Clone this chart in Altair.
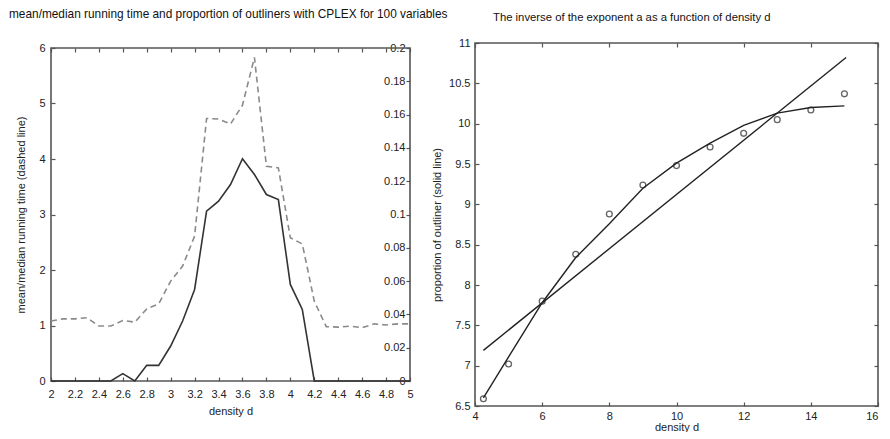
import altair as alt
import pandas as pd

FONT = "Liberation Sans"

LEFT_TITLE = "mean/median running time and proportion of outliners with CPLEX for 100 variables"
RIGHT_TITLE = "The inverse of the exponent a as a function of density d"

# ---------------- left panel data ----------------
density = [2.0, 2.1, 2.2, 2.3, 2.4, 2.5, 2.6, 2.7, 2.8, 2.9,
           3.0, 3.1, 3.2, 3.3, 3.4, 3.5, 3.6, 3.7, 3.8, 3.9,
           4.0, 4.1, 4.2, 4.3, 4.4, 4.5, 4.6, 4.7, 4.8, 4.9, 5.0]
mean_median_time = [1.08, 1.12, 1.12, 1.14, 0.99, 0.99, 1.09, 1.06, 1.30, 1.39,
                    1.80, 2.07, 2.61, 4.73, 4.72, 4.63, 4.97, 5.83, 3.87, 3.84,
                    2.58, 2.47, 1.44, 0.98, 0.97, 0.99, 0.96, 1.03, 1.01, 1.03, 1.03]
outlier_prop = [0.0, 0.0, 0.0, 0.0, 0.0, 0.0, 0.0044, 0.0, 0.0094, 0.0094,
                0.021, 0.036, 0.055, 0.102, 0.108, 0.118, 0.1335, 0.124, 0.112, 0.109,
                0.058, 0.043, 0.0, 0.0, 0.0, 0.0, 0.0, 0.0, 0.0, 0.0, 0.0]

left_xticks = [2, 2.2, 2.4, 2.6, 2.8, 3, 3.2, 3.4, 3.6, 3.8, 4, 4.2, 4.4, 4.6, 4.8, 5]
left_yticks = [0, 1, 2, 3, 4, 5, 6]
right_axis_ticks = [0, 0.02, 0.04, 0.06, 0.08, 0.1, 0.12, 0.14, 0.16, 0.18, 0.2]

# ---------------- right panel data ----------------
obs_density = [4.25, 5, 6, 7, 8, 9, 10, 11, 12, 13, 14, 15]
obs_inverse = [6.59, 7.02, 7.80, 8.38, 8.88, 9.24, 9.48, 9.71, 9.88, 10.05, 10.17, 10.37]
curve_density = [4.25, 5, 6, 7, 8, 9, 10, 11, 12, 13, 14, 15]
curve_inverse = [6.60, 7.11, 7.78, 8.34, 8.76, 9.20, 9.51, 9.76, 9.98, 10.13, 10.20, 10.22]
line_density = [4.25, 15.05]
line_inverse = [7.19, 10.82]

r_xticks = [4, 6, 8, 10, 12, 14, 16]
r_yticks = [6.5, 7, 7.5, 8, 8.5, 9, 9.5, 10, 10.5, 11]

# left panel: group is 338 tall, the plotted frame starts 5px below its top
W1, H1, TOP1 = 359, 338, 5
W2, H2 = 403, 363
FRAME = "#555555"

AX = dict(domain=False, offset=-4, tickSize=4, tickColor=FRAME, tickWidth=1.2,
          labelFont=FONT, labelFontSize=11, labelColor="#222",
          titleFont=FONT, titleFontSize=11, titleFontWeight="normal", titleColor="#222",
          grid=False, labelFlush=False, labelOverlap=False)
AX_R = dict(AX)
AX_R["minExtent"] = 0

left_df = pd.DataFrame({"d": density, "t": mean_median_time, "p": outlier_prop})

xs1 = alt.Scale(domain=[2, 5], nice=False, zero=False)

frame1 = alt.Chart(pd.DataFrame({"f": [0]})).mark_rect(
    fill="transparent", stroke=FRAME, strokeWidth=1.6
).encode(x=alt.value(0), x2=alt.value(W1), y=alt.value(TOP1), y2=alt.value(H1))

title1 = alt.Chart(pd.DataFrame({"t": [LEFT_TITLE]})).mark_text(
    font=FONT, fontSize=11.85, color="#111", align="left", baseline="top"
).encode(x=alt.value(-42), y=alt.value(-34), text="t:N")

dashed = alt.Chart(left_df).mark_line(color="#8a8a8a", strokeDash=[6, 4], strokeWidth=1.6).encode(
    x=alt.X("d:Q", scale=xs1,
            axis=alt.Axis(orient="bottom", values=left_xticks, format="~g", title="density d",
                          labelPadding=7, titlePadding=6, **AX)),
    y=alt.Y("t:Q", scale=alt.Scale(domain=[0, 6], nice=False, range=[H1, TOP1]),
            axis=alt.Axis(orient="left", values=left_yticks, title="mean/median running time (dashed line)",
                          labelPadding=6, titlePadding=12, **AX)),
)
AX_TOP = dict(AX)
AX_TOP["offset"] = -4 - TOP1
solid = alt.Chart(left_df).mark_line(color="#333333", strokeWidth=1.6).encode(
    x=alt.X("d:Q", scale=xs1,
            axis=alt.Axis(orient="top", values=left_xticks, labels=False, title=None, **AX_TOP)),
    y=alt.Y("p:Q", scale=alt.Scale(domain=[0, 0.2], nice=False, range=[H1, TOP1]),
            axis=alt.Axis(orient="right", values=right_axis_ticks, format="~g", title=None,
                          labelAlign="right", labelPadding=-5, **AX_R)),
)
left = alt.layer(frame1, dashed, solid, title1).resolve_scale(y="independent").resolve_axis(x="independent").properties(
    width=W1, height=H1,
    view=alt.ViewBackground(stroke="transparent"),
)

# ---------------- right panel ----------------
obs_df = pd.DataFrame({"d": obs_density, "v": obs_inverse})
curve_df = pd.DataFrame({"d": curve_density, "v": curve_inverse})
line_df = pd.DataFrame({"d": line_density, "v": line_inverse})

xs2 = alt.Scale(domain=[4, 16], nice=False, zero=False)
ys2 = alt.Scale(domain=[6.5, 11], nice=False, zero=False)

AX_RB = dict(AX)
AX_RB["labelAlign"] = alt.ExprRef(expr="datum.value >= 16 ? 'right' : 'center'")

title2 = alt.Chart(pd.DataFrame({"t": [RIGHT_TITLE]})).mark_text(
    font=FONT, fontSize=11.3, color="#111", align="left", baseline="top"
).encode(x=alt.value(18), y=alt.value(-31), text="t:N")

pts = alt.Chart(obs_df).mark_point(shape="circle", filled=False, color="#222", size=34, strokeWidth=1.3).encode(
    x=alt.X("d:Q", scale=xs2,
            axis=alt.Axis(orient="bottom", values=r_xticks, title="density d", labelPadding=4, titlePadding=0, **AX_RB)),
    y=alt.Y("v:Q", scale=ys2,
            axis=alt.Axis(orient="left", values=r_yticks, format="~g", title="proportion of outliner (solid line)",
                          labelPadding=5, titlePadding=6, **AX)),
)
fit_line = alt.Chart(line_df).mark_line(color="#222", strokeWidth=1.4).encode(
    x=alt.X("d:Q", scale=xs2, axis=alt.Axis(orient="top", values=r_xticks, labels=False, title=None, **AX)),
    y=alt.Y("v:Q", scale=ys2, axis=alt.Axis(orient="right", values=r_yticks, labels=False, title=None, **AX_R)),
)
curve = alt.Chart(curve_df).mark_line(color="#222", strokeWidth=1.4).encode(
    x=alt.X("d:Q", scale=xs2, axis=None),
    y=alt.Y("v:Q", scale=ys2, axis=None),
)
right = alt.layer(fit_line, curve, pts, title2).resolve_axis(x="independent", y="independent").properties(
    width=W2, height=H2,
    view=alt.ViewBackground(stroke=FRAME, strokeWidth=1.6),
)

chart = alt.hconcat(left, right, spacing=-18).properties(
    padding={"left": 0, "right": 0, "top": 0, "bottom": -1}
).configure(background="white")

chart.save("out.html", embed_options={"renderer": "svg", "actions": False})
